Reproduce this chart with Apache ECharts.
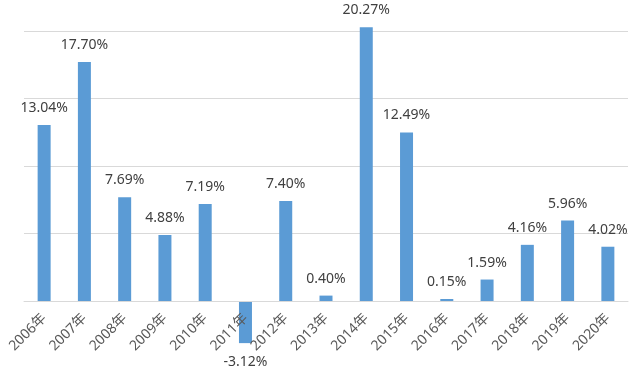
<!DOCTYPE html>
<html><head><meta charset="utf-8">
<script src="https://cdn.jsdelivr.net/npm/echarts@6/dist/echarts.min.js"></script>
<style>html,body{margin:0;padding:0;background:#fff}#c{width:640px;height:369px}</style>
</head><body><div id="c"></div>
<script>
var categories = ['2006年','2007年','2008年','2009年','2010年','2011年','2012年','2013年','2014年','2015年','2016年','2017年','2018年','2019年','2020年'];
var values = [13.04, 17.70, 7.69, 4.88, 7.19, -3.12, 7.40, 0.40, 20.27, 12.49, 0.15, 1.59, 4.16, 5.96, 4.02];
var fontFam = '"Noto Sans", "Noto Sans CJK SC", sans-serif';
var chart = echarts.init(document.getElementById('c'));
chart.setOption({
  animation: false,
  grid: {left: 24, right: 12, top: 31, bottom: 68, containLabel: false, outerBoundsMode: 'none'},
  xAxis: {
    type: 'category', data: categories,
    axisTick: {show: false},
    axisLine: {lineStyle: {color: '#d9d9d9', width: 1}},
    axisLabel: {rotate: 45, color: '#595959', fontSize: 14, fontFamily: fontFam, margin: 15, interval: 0, hideOverlap: false},
    z: 10
  },
  yAxis: {
    type: 'value', min: 0, max: 20, interval: 5,
    axisLabel: {show: false}, axisLine: {show: false}, axisTick: {show: false},
    splitLine: {lineStyle: {color: '#d9d9d9', width: 1}}
  },
  series: [{
    type: 'bar', data: values.map(function(v){
      return {value: v, label: v < 0 ? {position: 'bottom', distance: 12} : {position: 'top'}};
    }),
    barWidth: 13, clip: false,
    itemStyle: {color: '#5b9bd5'},
    label: {show: true, distance: 10, color: '#404040', fontSize: 14, fontFamily: fontFam,
      formatter: function(p){ return p.value.toFixed(2) + '%'; }}
  }]
});
</script></body></html>
